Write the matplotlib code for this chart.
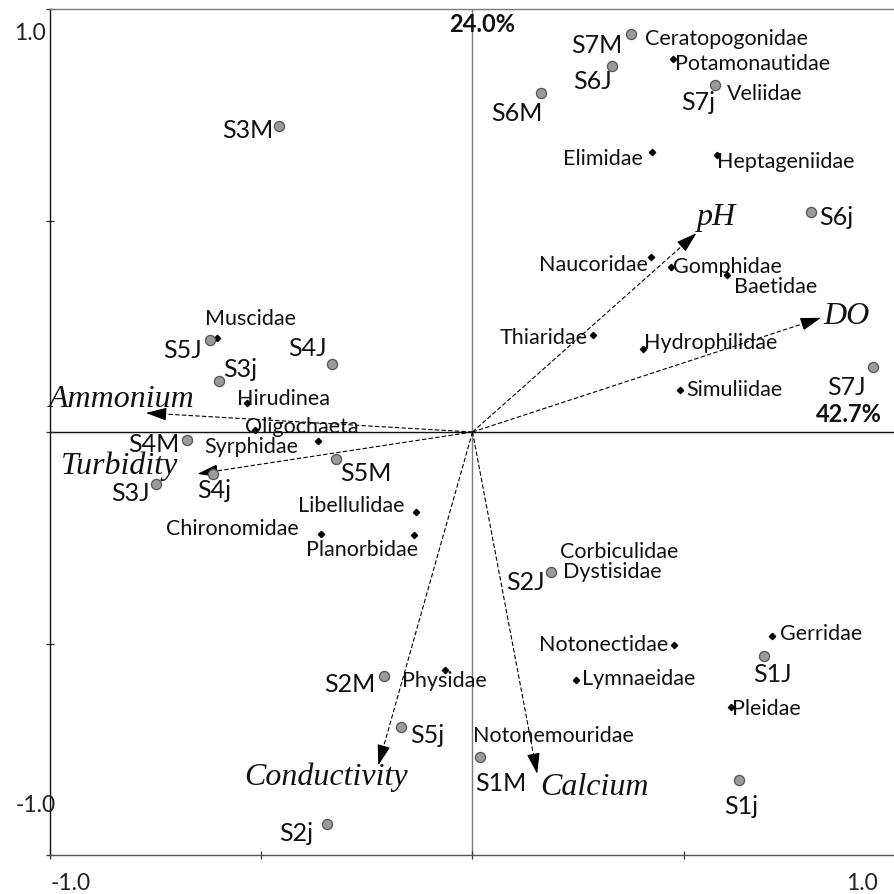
"""
RDA-style biplot: sampling sites, macroinvertebrate families and
environmental vectors on the first two ordination axes.
"""

import numpy as np
import matplotlib
matplotlib.use("Agg")
import matplotlib.pyplot as plt

# ── DATA ──────────────────────────────────────────────────────────────────────
axis1_pct = 42.7
axis2_pct = 24.0

site_names = ["S1M", "S1J", "S1j", "S2M", "S2J", "S2j", "S3M", "S3J", "S3j",
              "S4M", "S4J", "S4j", "S5M", "S5J", "S5j", "S6M", "S6J", "S6j",
              "S7M", "S7J", "S7j"]
site_x = [0.017, 0.691, 0.630, -0.210, 0.186, -0.344, -0.457, -0.750, -0.600,
          -0.675, -0.333, -0.615, -0.323, -0.622, -0.169, 0.162, 0.330, 0.801,
          0.374, 0.949, 0.574]
site_y = [-0.769, -0.530, -0.823, -0.576, -0.330, -0.926, 0.724, -0.123, 0.121,
          -0.018, 0.161, -0.099, -0.065, 0.217, -0.697, 0.802, 0.866, 0.519,
          0.941, 0.153, 0.821]

taxa_names = ["Ceratopogonidae", "Potamonautidae", "Veliidae", "Elimidae",
              "Heptageniidae", "Naucoridae", "Gomphidae", "Baetidae",
              "Thiaridae", "Hydrophilidae", "Simuliidae", "Muscidae",
              "Hirudinea", "Oligochaeta", "Syrphidae", "Libellulidae",
              "Chironomidae", "Planorbidae", "Corbiculidae", "Dystisidae",
              "Notonectidae", "Gerridae", "Lymnaeidae", "Physidae", "Pleidae",
              "Notonemouridae"]
taxa_x = [0.372, 0.474, 0.572, 0.425, 0.579, 0.422, 0.469, 0.603, 0.285,
          0.403, 0.492, -0.605, -0.534, -0.515, -0.366, -0.134, -0.359,
          -0.138, 0.184, 0.188, 0.477, 0.709, 0.246, -0.066, 0.612, 0.017]
taxa_y = [0.938, 0.882, 0.819, 0.663, 0.656, 0.414, 0.389, 0.371, 0.230,
          0.196, 0.100, 0.222, 0.069, 0.005, -0.022, -0.189, -0.241, -0.243,
          -0.328, -0.332, -0.503, -0.483, -0.586, -0.562, -0.649, -0.767]

env_names = ["pH", "DO", "Ammonium", "Turbidity", "Conductivity", "Calcium"]
env_x = [0.530, 0.825, -0.773, -0.651, -0.223, 0.153]
env_y = [0.470, 0.270, 0.045, -0.099, -0.788, -0.808]

# ── LABEL LAYOUT (offset in pixels, horizontal alignment) ───────────────────
site_lab = {
    "S1M": (-5, -26, "left"),  "S1J": (8, -18, "center"), "S1j": (2, -26, "center"),
    "S2M": (-8, -9, "right"),  "S2J": (-6, -11, "right"), "S2j": (-14, -10, "right"),
    "S3M": (-6, -5, "right"),  "S3J": (-6, -9, "right"),  "S3j": (4, 11, "left"),
    "S4M": (-8, -5, "right"),  "S4J": (-5, 15, "right"),  "S4j": (1, -17, "center"),
    "S5M": (4, -14, "left"),   "S5J": (-8, -10, "right"), "S5j": (9, -9, "left"),
    "S6M": (2, -21, "right"),  "S6J": (0, -16, "right"),  "S6j": (8, -5, "left"),
    "S7M": (-8, -12, "right"), "S7J": (-27, -20, "center"), "S7j": (0, -18, "right"),
}
taxa_lab = {
    "Ceratopogonidae": (15, -4, "left"), "Potamonautidae": (2, -5, "left"),
    "Veliidae": (13, -8, "left"), "Elimidae": (-9, -7, "right"),
    "Heptageniidae": (0, -7, "left"), "Naucoridae": (-3, -8, "right"),
    "Gomphidae": (2, 0, "left"), "Baetidae": (7, -12, "left"),
    "Thiaridae": (-5, -3, "right"), "Hydrophilidae": (1, 6, "left"),
    "Simuliidae": (6, 0, "left"), "Muscidae": (-12, 19, "left"),
    "Hirudinea": (-10, 4, "left"), "Oligochaeta": (-10, 3, "left"),
    "Syrphidae": (-20, -6, "right"), "Libellulidae": (-11, 6, "right"),
    "Chironomidae": (-22, 5, "right"), "Planorbidae": (4, -15, "right"),
    "Corbiculidae": (10, 19, "left"), "Dystisidae": (11, 0, "left"),
    "Notonectidae": (-6, 0, "right"), "Gerridae": (8, 2, "left"),
    "Lymnaeidae": (6, 1, "left"), "Physidae": (0, -11, "center"),
    "Pleidae": (1, -2, "left"), "Notonemouridae": (-7, 20, "left"),
}
env_lab = {
    "pH": (0, 16, "left"), "DO": (2, 1, "left"), "Ammonium": (-24, 13, "center"),
    "Turbidity": (-19, 8, "right"), "Conductivity": (-52, -12, "center"),
    "Calcium": (3, -14, "left"),
}

SANS = "Lato"
SERIF = "Liberation Serif"
TXT = "#111111"

# ── FIGURE ────────────────────────────────────────────────────────────────────
W, H = 895, 894
fig = plt.figure(figsize=(W / 100, H / 100), dpi=100)
ax = fig.add_axes([50 / W, 39 / H, 845 / W, 846 / H])
ax.set_xlim(-1, 1)
ax.set_ylim(-1, 1)

ax.spines["right"].set_visible(False)
ax.spines["top"].set_color("#7a7a7a")
ax.spines["bottom"].set_color("#555555")
ax.spines["left"].set_color("#111111")
for s in ax.spines.values():
    s.set_linewidth(1.0)

ticks = [-1, -0.5, 0, 0.5, 1]
ax.set_xticks(ticks)
ax.set_yticks(ticks)
ax.set_xticklabels([])
ax.set_yticklabels([])
ax.tick_params(direction="inout", length=6, width=0.9, colors="#333333")

ax.axhline(0, color="#111111", lw=1.0, zorder=1)
ax.axvline(0, color="#7a7a7a", lw=1.0, zorder=1)

# environmental vectors: dashed shaft + solid head
for name, x, y in zip(env_names, env_x, env_y):
    d = np.array([x, y]) / np.hypot(x, y)
    base = np.array([x, y]) - 0.03 * d
    ax.plot([0, base[0]], [0, base[1]], color="black", lw=0.8,
            linestyle=(0, (4, 2)), zorder=2)
    ax.annotate("", xy=(x, y), xytext=(base[0], base[1]),
                arrowprops=dict(arrowstyle="-|>,head_length=1.6,head_width=0.5",
                                mutation_scale=8, color="black", lw=0.8,
                                shrinkA=0, shrinkB=0), zorder=3)
    dx, dy, ha = env_lab[name]
    ax.annotate(name, xy=(x, y), xytext=(dx, dy), textcoords="offset pixels",
                ha=ha, va="center", fontsize=23, family=SERIF,
                style="italic", color=TXT, zorder=5)

# taxa: small black diamonds
ax.plot(taxa_x, taxa_y, linestyle="none", marker="D", markersize=3.2,
        color="black", zorder=3)
for name, x, y in zip(taxa_names, taxa_x, taxa_y):
    dx, dy, ha = taxa_lab[name]
    ax.annotate(name, xy=(x, y), xytext=(dx, dy), textcoords="offset pixels",
                ha=ha, va="center", fontsize=15.5, family=SANS, color=TXT,
                zorder=5)

# sites: grey circles
ax.plot(site_x, site_y, linestyle="none", marker="o", markersize=7.3,
        markerfacecolor="#9a9a9a", markeredgecolor="#555555",
        markeredgewidth=0.9, zorder=4)
for name, x, y in zip(site_names, site_x, site_y):
    dx, dy, ha = site_lab[name]
    ax.annotate(name, xy=(x, y), xytext=(dx, dy), textcoords="offset pixels",
                ha=ha, va="center", fontsize=18, family=SANS, color=TXT,
                zorder=5)

# explained variance on each axis
fig.text(482 / W, 1 - 25 / H, f"{axis2_pct:.1f}%", ha="center", va="center",
         fontsize=17, family=SANS, fontweight="bold", color=TXT)
fig.text(849 / W, 1 - 415 / H, f"{axis1_pct:.1f}%", ha="center", va="center",
         fontsize=17, family=SANS, fontweight="bold", color=TXT)

# axis end labels
lab_kw = dict(fontsize=16.5, family=SANS, color="#222222", va="center")
fig.text(46 / W, 1 - 34 / H, "1.0", ha="right", **lab_kw)
fig.text(56 / W, 1 - 806 / H, "-1.0", ha="right", **lab_kw)
fig.text(51 / W, 1 - 883 / H, "-1.0", ha="left", **lab_kw)
fig.text(878 / W, 1 - 883 / H, "1.0", ha="right", **lab_kw)

fig.savefig("out.png", dpi=100)
